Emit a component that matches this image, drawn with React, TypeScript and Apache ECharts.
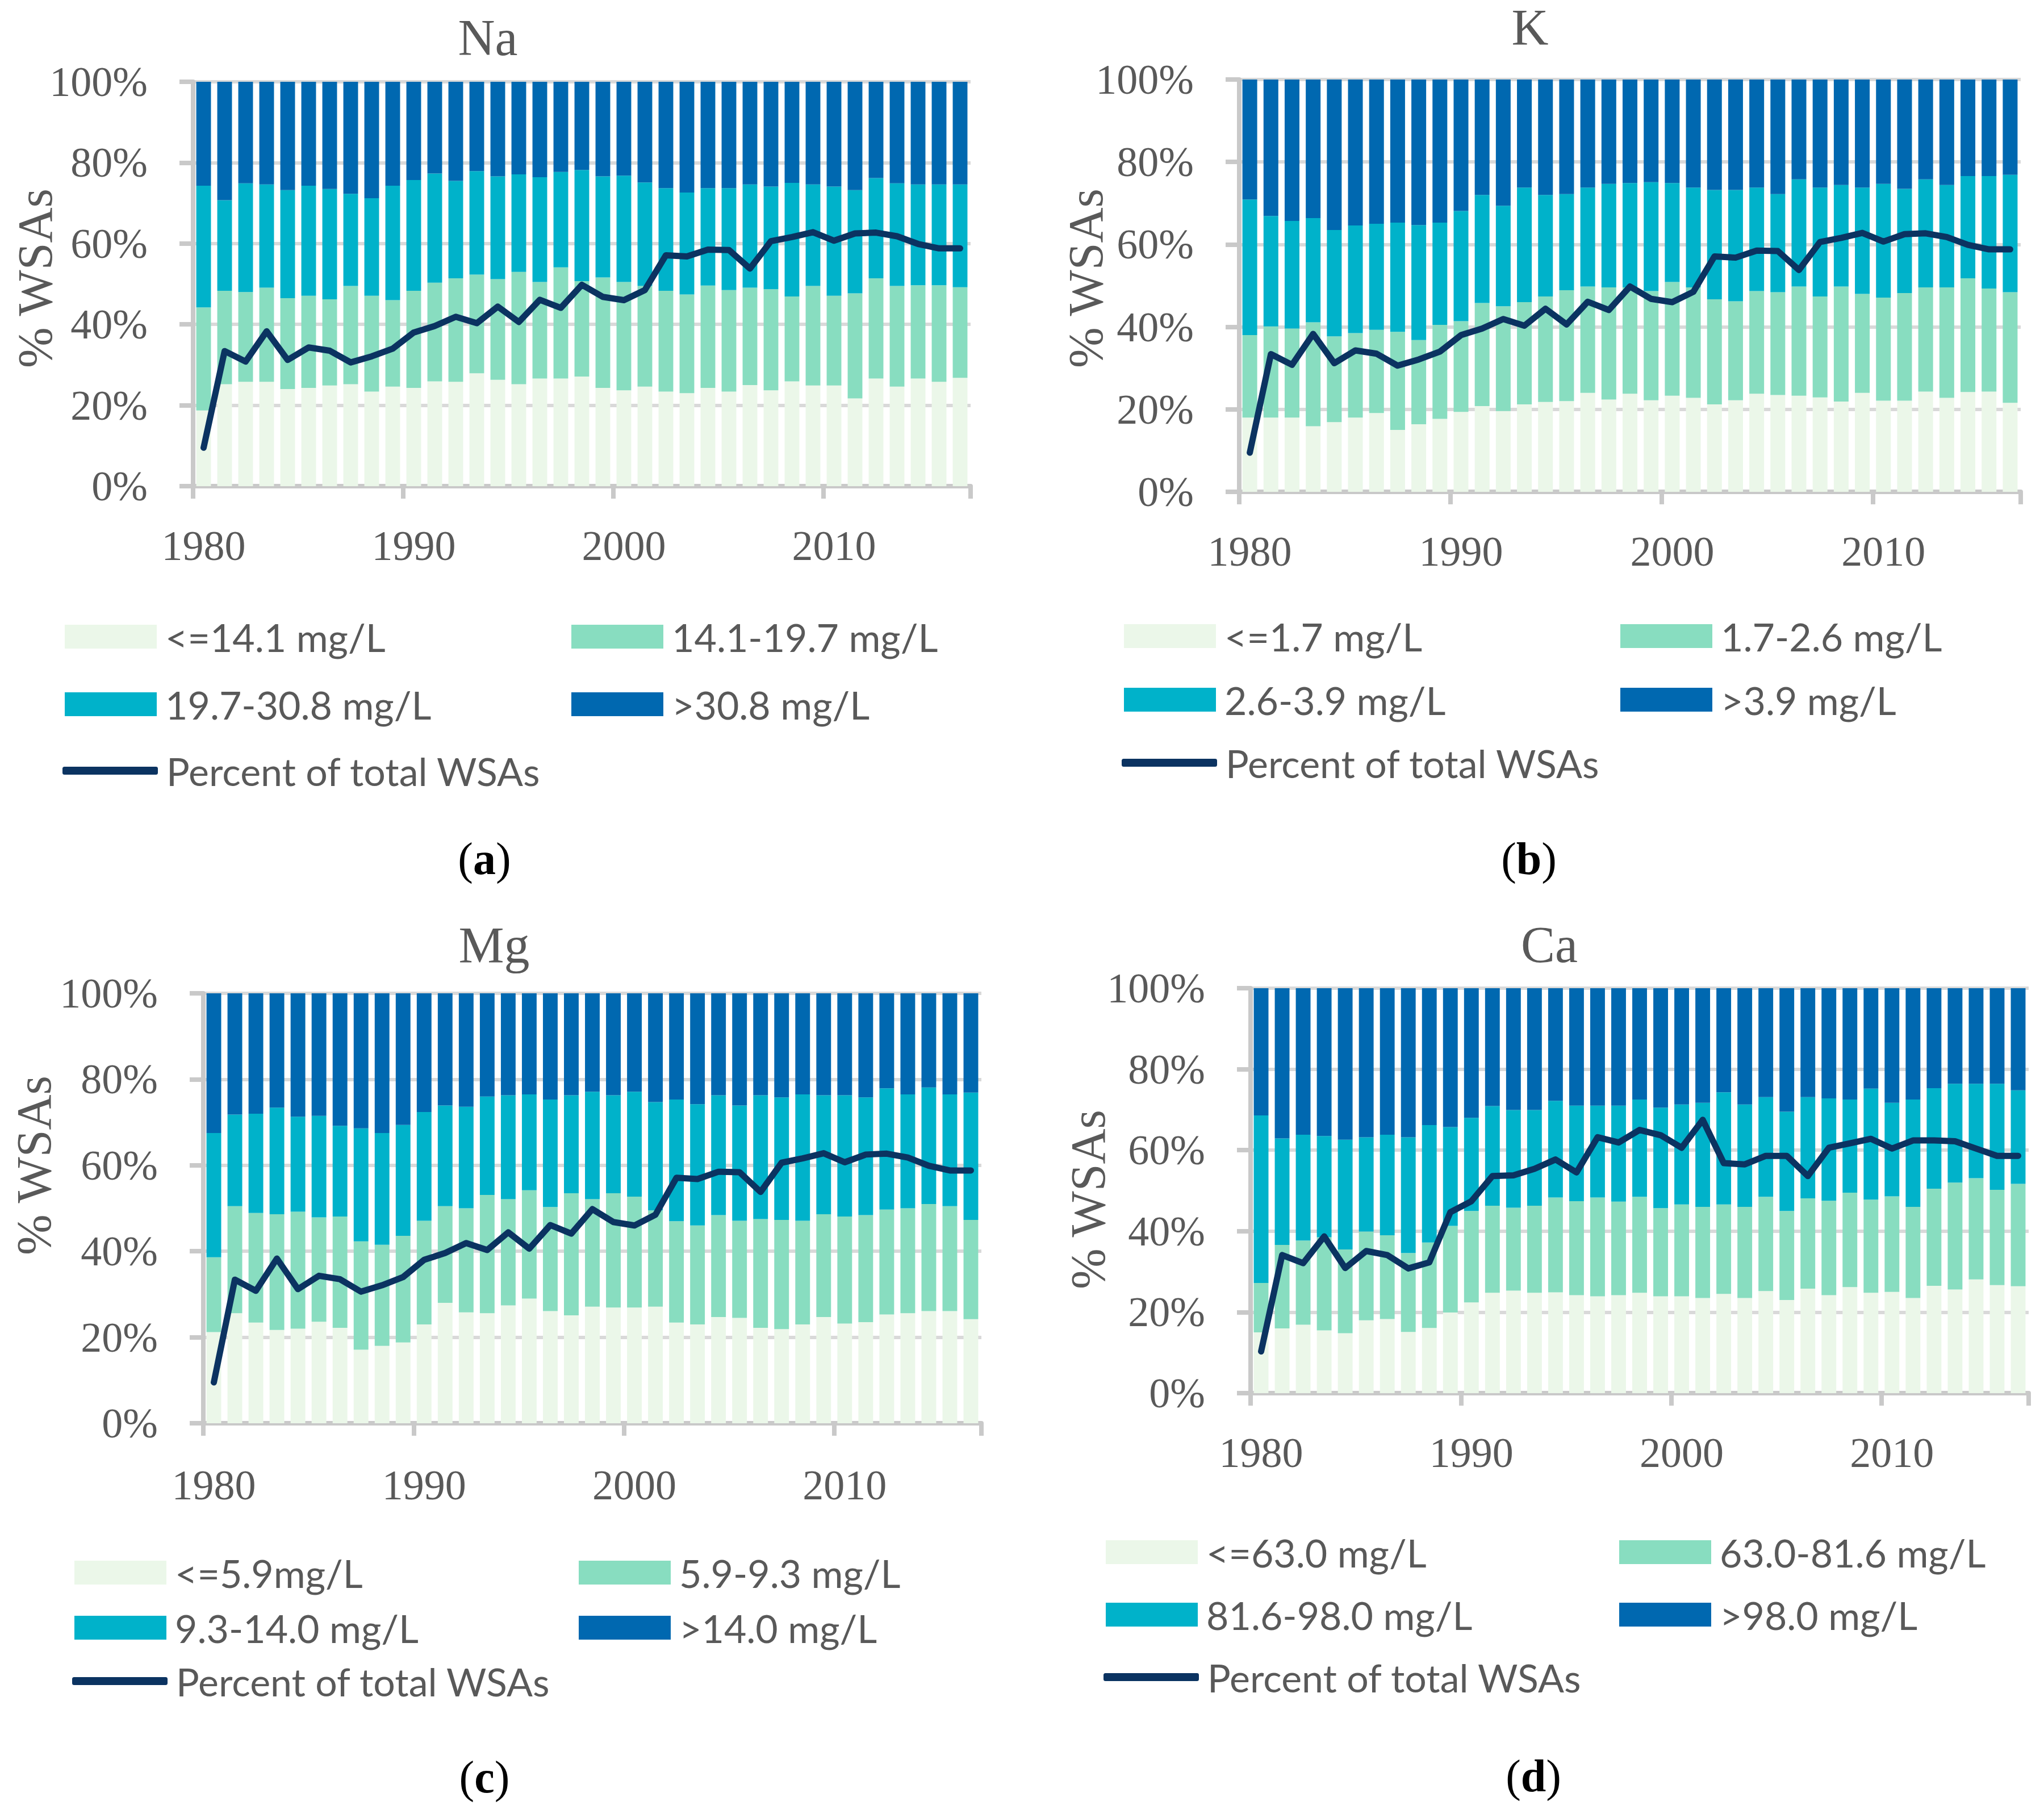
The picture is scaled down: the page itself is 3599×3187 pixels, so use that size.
import React, { useEffect, useRef } from "react";
import * as echarts from "echarts";

const years = ["1980","1981","1982","1983","1984","1985","1986","1987","1988","1989","1990","1991","1992","1993","1994","1995","1996","1997","1998","1999","2000","2001","2002","2003","2004","2005","2006","2007","2008","2009","2010","2011","2012","2013","2014","2015","2016"];
const yTicks = [0, 20, 40, 60, 80, 100];

const lineName = "Percent of total WSAs";
const panelTitles = ["Na", "K", "Mg", "Ca"];
const panelTags = ["a", "b", "c", "d"];

const naClasses = ["<=14.1 mg/L", "14.1-19.7 mg/L", "19.7-30.8 mg/L", ">30.8 mg/L"];
const kClasses = ["<=1.7 mg/L", "1.7-2.6 mg/L", "2.6-3.9 mg/L", ">3.9 mg/L"];
const mgClasses = ["<=5.9mg/L", "5.9-9.3 mg/L", "9.3-14.0 mg/L", ">14.0 mg/L"];
const caClasses = ["<=63.0 mg/L", "63.0-81.6 mg/L", "81.6-98.0 mg/L", ">98.0 mg/L"];

// Na
const naLow = [18.7,25.2,25.8,25.8,24.0,24.3,24.9,25.2,23.4,24.6,24.3,25.9,25.8,27.9,26.3,25.2,26.6,26.6,27.1,24.3,23.7,24.6,23.4,23.0,24.3,23.4,25.0,23.7,25.9,24.9,24.9,21.7,26.6,24.6,26.6,25.8,26.8];
const naMid = [25.5,23.1,22.2,23.3,22.5,22.8,21.3,24.3,23.7,21.4,24.0,24.4,25.6,24.4,24.9,27.8,23.9,27.5,23.6,27.3,26.8,24.9,24.9,24.4,25.3,25.1,24.1,25.0,21.0,24.6,22.2,26.0,24.8,24.9,23.1,23.9,22.4];
const naHigh = [30.1,22.4,26.9,25.5,26.7,27.2,27.3,22.8,24.1,28.3,27.4,27.0,24.1,25.6,25.4,24.1,25.9,23.6,27.5,25.0,26.3,25.6,25.4,25.2,24.1,25.2,25.5,25.4,28.1,25.1,27.0,25.5,24.8,25.4,24.9,24.9,25.4];
const naTop = [25.7,29.3,25.1,25.4,26.8,25.7,26.5,27.7,28.8,25.7,24.3,22.7,24.5,22.1,23.4,22.9,23.6,22.3,21.8,23.4,23.2,24.9,26.3,27.4,26.3,26.3,25.4,25.9,25.0,25.4,25.9,26.8,23.8,25.1,25.4,25.4,25.4];

// K
const kLow = [18.0,18.0,18.0,15.9,16.9,18.0,19.1,15.0,16.4,17.7,19.4,20.8,19.6,21.2,21.8,22.0,24.0,22.4,23.8,22.2,23.3,22.8,21.2,22.2,23.8,23.5,23.3,22.9,21.9,24.0,22.1,22.1,24.3,22.8,24.2,24.3,21.6];
const kMid = [20.0,22.1,21.6,25.2,20.8,20.5,20.2,23.8,20.4,22.8,22.0,25.0,25.4,24.8,25.6,26.9,25.8,27.2,25.8,26.5,27.6,26.8,25.5,24.0,24.9,24.9,26.5,24.5,27.9,24.0,25.0,26.1,25.3,26.8,27.6,25.0,26.8];
const kHigh = [32.9,26.8,26.1,25.3,25.8,26.1,25.7,26.5,27.9,24.8,26.7,26.2,24.4,27.8,24.6,23.3,24.0,25.1,25.3,26.4,24.0,24.2,26.5,27.0,25.1,23.8,26.0,26.4,24.6,25.8,27.6,25.3,26.2,24.8,24.8,27.3,28.5];
const kTop = [29.1,33.1,34.3,33.6,36.5,35.4,35.0,34.7,35.3,34.7,31.9,28.0,30.6,26.2,28.0,27.8,26.2,25.3,25.1,24.9,25.1,26.2,26.8,26.8,26.2,27.8,24.2,26.2,25.6,26.2,25.3,26.5,24.2,25.6,23.4,23.4,23.1];

// Mg
const mgLow = [21.2,25.6,23.4,21.7,22.0,23.6,22.2,17.1,18.0,18.8,23.0,28.0,25.8,25.6,27.4,29.0,26.1,25.1,27.1,26.9,26.9,27.1,23.4,23.0,24.7,24.5,22.2,21.9,23.0,24.7,23.2,23.5,25.3,25.6,26.1,26.1,24.2];
const mgMid = [17.4,24.9,25.5,26.9,27.2,24.3,25.9,25.2,23.5,24.8,24.1,22.5,24.2,27.5,24.7,25.2,24.2,28.4,25.0,26.6,25.8,22.4,23.6,23.0,23.7,22.6,25.3,25.4,24.1,23.9,24.9,24.9,24.4,24.4,24.9,24.4,23.1];
const mgHigh = [28.9,21.3,23.1,24.8,22.1,23.6,21.1,26.3,26.0,25.8,25.3,23.4,23.6,22.9,24.2,22.3,25.0,22.8,25.0,22.8,24.4,25.2,28.3,28.2,27.9,26.8,28.8,28.5,29.4,27.7,28.2,27.4,28.2,26.5,27.1,26.0,29.6];
const mgTop = [32.5,28.2,28.0,26.6,28.7,28.5,30.8,31.4,32.5,30.6,27.6,26.1,26.4,24.0,23.7,23.5,24.7,23.7,22.9,23.7,22.9,25.3,24.7,25.8,23.7,26.1,23.7,24.2,23.5,23.7,23.7,24.2,22.1,23.5,21.9,23.5,23.1];

// Ca
const caLow = [15.0,16.0,16.9,15.5,14.8,18.0,18.3,15.1,16.1,19.9,22.4,24.8,25.3,24.8,24.9,24.2,23.9,24.2,24.8,23.9,23.9,23.5,24.5,23.5,25.2,23.0,25.8,24.2,26.2,24.8,25.0,23.5,26.5,25.6,28.1,26.7,26.4];
const caMid = [12.2,20.6,20.8,23.0,20.7,21.9,20.7,19.5,21.1,21.4,22.6,21.5,20.5,21.5,23.4,23.2,24.4,23.1,23.7,21.8,22.7,22.5,22.1,22.5,23.3,22.0,22.3,23.3,23.3,23.0,23.6,22.5,24.0,26.4,25.0,23.5,25.3];
const caHigh = [41.4,26.3,26.1,25.0,27.1,23.3,24.8,28.6,29.0,24.4,23.0,24.6,24.1,23.6,23.9,23.6,22.7,23.7,24.0,24.8,24.7,25.7,27.7,25.3,24.6,24.5,25.0,25.3,23.0,27.4,23.1,26.5,24.8,24.4,23.3,26.2,23.1];
const caTop = [31.4,37.1,36.2,36.5,37.4,36.8,36.2,36.8,33.8,34.3,32.0,29.1,30.1,30.1,27.8,29.0,29.0,29.0,27.5,29.5,28.7,28.3,25.7,28.7,26.9,30.5,26.9,27.2,27.5,24.8,28.3,27.5,24.7,23.6,23.6,23.6,25.2];

// Percent of total WSAs
const totalWsa = [9.5,33.4,30.8,38.3,31.2,34.3,33.5,30.6,32.1,34.0,38.0,39.6,41.9,40.3,44.4,40.6,46.1,44.1,49.8,46.8,46.0,48.5,57.1,56.8,58.5,58.4,53.8,60.6,61.6,62.8,60.7,62.5,62.7,61.8,59.9,58.8,58.8];
const totalWsaCa = [10.3,34.1,32.1,38.7,30.9,35.1,34.1,30.8,32.3,44.7,47.4,53.6,53.8,55.4,57.7,54.5,63.2,61.9,65.0,63.7,60.6,67.5,56.8,56.5,58.6,58.6,53.6,60.6,61.7,62.8,60.4,62.4,62.4,62.2,60.4,58.6,58.6];

const panelClasses = [naClasses, kClasses, mgClasses, caClasses];
const panelBars = [
  [naLow, naMid, naHigh, naTop],
  [kLow, kMid, kHigh, kTop],
  [mgLow, mgMid, mgHigh, mgTop],
  [caLow, caMid, caHigh, caTop],
];
const panelLines = [totalWsa, totalWsa, totalWsa, totalWsaCa];

const barColors = ["#EBF7E9", "#88DDC0", "#00B2CA", "#0068B0"];
const lineColor = "#0B3361";
const axisGray = "#C9C9C9";
const gridGray = "#D9D9D9";
const textGray = "#595959";
const serif = "'Liberation Serif', 'Times New Roman', serif";
const sans = "Lato, 'Open Sans', sans-serif";

// layout of the four panels (pixels)
const layout = [
  { grid: { left: 340, top: 144, width: 1369, height: 712 }, title: [859, 66], yName: [62, 490], tag: [853, 1512], labelMargin: 68,
    cols: [114, 1006], rows: [1122, 1241, 1358] },
  { grid: { left: 2182, top: 140, width: 1376, height: 726 }, title: [2694, 48], yName: [1912, 490], tag: [2692, 1512], labelMargin: 68,
    cols: [1979, 2853], rows: [1121, 1233, 1344] },
  { grid: { left: 358, top: 1749, width: 1370, height: 757 }, title: [870, 1664], yName: [60, 2052], tag: [853, 3129], labelMargin: 72,
    cols: [131, 1019], rows: [2770, 2867, 2961] },
  { grid: { left: 2202, top: 1740, width: 1370, height: 713 }, title: [2728, 1663], yName: [1916, 2112], tag: [2700, 3127], labelMargin: 68,
    cols: [1947, 2851], rows: [2734, 2844, 2954] },
];

function buildOption() {
  const grid: any[] = [];
  const xAxis: any[] = [];
  const yAxis: any[] = [];
  const series: any[] = [];
  const legend: any[] = [];
  const graphic: any[] = [];

  layout.forEach((L, p) => {
    grid.push({ ...L.grid, containLabel: false });
    xAxis.push({
      type: "category",
      gridIndex: p,
      data: years,
      boundaryGap: true,
      axisLine: { show: true, lineStyle: { color: axisGray, width: 8 } },
      axisTick: { show: true, interval: 9, length: 22, lineStyle: { color: axisGray, width: 8 } },
      axisLabel: { interval: 9, margin: L.labelMargin, fontFamily: serif, fontSize: 74, color: textGray },
      splitLine: { show: false },
    });
    yAxis.push({
      type: "value",
      gridIndex: p,
      min: yTicks[0],
      max: yTicks[yTicks.length - 1],
      interval: 20,
      axisLine: { show: true, lineStyle: { color: axisGray, width: 8 } },
      axisTick: { show: true, length: 24, lineStyle: { color: axisGray, width: 8 } },
      axisLabel: { margin: 80, fontFamily: serif, fontSize: 74, color: textGray, formatter: "{value}%" },
      splitLine: { show: true, lineStyle: { color: gridGray, width: 6 } },
    });
    const classes = panelClasses[p];
    panelBars[p].forEach((arr, i) => {
      series.push({
        type: "bar",
        name: classes[i],
        xAxisIndex: p,
        yAxisIndex: p,
        stack: "s" + p,
        data: arr,
        barCategoryGap: "30%",
        itemStyle: { color: barColors[i] },
        emphasis: { disabled: true },
        z: 2,
      });
    });
    series.push({
      type: "line",
      name: lineName,
      xAxisIndex: p,
      yAxisIndex: p,
      data: panelLines[p],
      symbol: "none",
      lineStyle: { color: lineColor, width: 11, cap: "round", join: "round" },
      itemStyle: { color: lineColor },
      emphasis: { disabled: true },
      z: 5,
    });

    const slots = [
      { name: classes[0], left: L.cols[0], row: L.rows[0] },
      { name: classes[1], left: L.cols[1], row: L.rows[0] },
      { name: classes[2], left: L.cols[0], row: L.rows[1] },
      { name: classes[3], left: L.cols[1], row: L.rows[1] },
    ];
    slots.forEach((s) => {
      legend.push({
        data: [s.name],
        left: s.left,
        top: s.row - 35,
        padding: 0,
        icon: "rect",
        itemWidth: 162,
        itemHeight: 42,
        selectedMode: false,
        textStyle: { fontFamily: sans, fontSize: 68, color: textGray, padding: [0, 0, 0, 10] },
      });
    });
    legend.push({
      data: [lineName],
      left: L.cols[0] - 4,
      top: L.rows[2] - 35,
      padding: 0,
      icon: "roundRect",
      itemWidth: 168,
      itemHeight: 14,
      selectedMode: false,
      itemStyle: { color: lineColor },
      lineStyle: { color: lineColor },
      textStyle: { fontFamily: sans, fontSize: 68, color: textGray, padding: [0, 0, 0, 10] },
    });

    graphic.push({
      type: "text",
      x: L.title[0],
      y: L.title[1],
      style: { text: panelTitles[p], fill: textGray, font: `90px ${serif}`, textAlign: "center", textVerticalAlign: "middle" },
    });
    graphic.push({
      type: "text",
      x: L.yName[0],
      y: L.yName[1],
      rotation: Math.PI / 2,
      style: { text: "% WSAs", fill: textGray, font: `86px ${serif}`, textAlign: "center", textVerticalAlign: "middle" },
    });
    graphic.push({
      type: "text",
      x: L.tag[0],
      y: L.tag[1],
      style: {
        text: "({b|" + panelTags[p] + "})",
        fill: "#000000",
        font: `80px ${serif}`,
        textAlign: "center",
        textVerticalAlign: "middle",
        rich: { b: { fontWeight: "bold", fontFamily: serif, fontSize: 80, fill: "#000000" } },
      },
    });
  });

  return {
    animation: false,
    backgroundColor: "#ffffff",
    grid,
    xAxis,
    yAxis,
    series,
    legend,
    graphic,
  };
}

export default function App() {
  const ref = useRef<HTMLDivElement>(null);
  useEffect(() => {
    if (!ref.current) return;
    const chart = echarts.init(ref.current, undefined, { renderer: "svg" });
    chart.setOption(buildOption() as any);
    return () => chart.dispose();
  }, []);
  return (
    <div
      ref={ref}
      style={{ position: "absolute", left: 0, top: 0, width: 3599, height: 3187, background: "#fff" }}
    />
  );
}
